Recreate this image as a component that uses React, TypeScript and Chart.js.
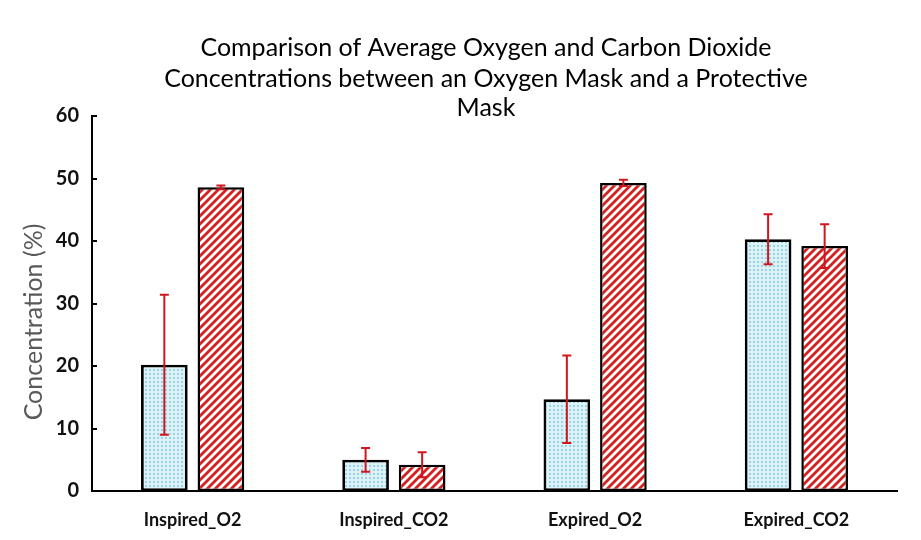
import React, { useEffect, useRef } from "react";
import { Chart, registerables } from "chart.js";

Chart.register(...registerables);

const categories = ["Inspired_O2", "Inspired_CO2", "Expired_O2", "Expired_CO2"];
const oxygenMask = [20.2, 5.0, 14.7, 40.3];
const oxygenMaskErr = [11.2, 1.9, 7.0, 4.0];
const protectiveMask = [48.6, 4.2, 49.3, 39.2];
const protectiveMaskErr = [0.3, 2.0, 0.5, 3.5];
const titleLines = [
  "Comparison of Average Oxygen and Carbon Dioxide",
  "Concentrations between an Oxygen Mask and a Protective",
  "Mask",
];
const yTitle = "Concentration (%)";
const errors = [oxygenMaskErr, protectiveMaskErr];

function dotPattern(): CanvasPattern | string {
  const c = document.createElement("canvas");
  c.width = 4;
  c.height = 4;
  const g = c.getContext("2d")!;
  g.fillStyle = "#dcf2f7";
  g.fillRect(0, 0, 4, 4);
  g.fillStyle = "#98d4e3";
  g.fillRect(1, 1, 2, 2);
  return g.createPattern(c, "repeat") || "#c5e9f1";
}

function stripePattern(): CanvasPattern | string {
  const s = 8;
  const c = document.createElement("canvas");
  c.width = s;
  c.height = s;
  const g = c.getContext("2d")!;
  g.fillStyle = "#ffffff";
  g.fillRect(0, 0, s, s);
  g.strokeStyle = "#d61f1f";
  g.lineWidth = 2.8;
  g.beginPath();
  g.moveTo(-1, s + 1);
  g.lineTo(s + 1, -1);
  g.moveTo(-1, 1);
  g.lineTo(1, -1);
  g.moveTo(s - 1, s + 1);
  g.lineTo(s + 1, s - 1);
  g.stroke();
  return g.createPattern(c, "repeat") || "#d61f1f";
}

const customPlugin = {
  id: "custom",
  afterDatasetsDraw(chart: any) {
    const ctx = chart.ctx;
    const y = chart.scales.y;
    ctx.save();
    ctx.strokeStyle = "#d0161e";
    ctx.lineWidth = 2;
    chart.data.datasets.forEach((ds: any, di: number) => {
      const meta = chart.getDatasetMeta(di);
      meta.data.forEach((el: any, i: number) => {
        const v = ds.data[i];
        const e = errors[di][i];
        const x = el.x;
        const yt = y.getPixelForValue(v + e);
        const yb = y.getPixelForValue(v - e);
        ctx.beginPath();
        ctx.moveTo(x, yt);
        ctx.lineTo(x, yb);
        ctx.moveTo(x - 4.5, yt);
        ctx.lineTo(x + 4.5, yt);
        ctx.moveTo(x - 4.5, yb);
        ctx.lineTo(x + 4.5, yb);
        ctx.stroke();
      });
    });
    // inner tick marks on y axis
    ctx.strokeStyle = "#000";
    ctx.lineWidth = 2;
    const x0 = chart.chartArea.left;
    y.ticks.forEach((t: any) => {
      const py = Math.round(y.getPixelForValue(t.value));
      ctx.beginPath();
      ctx.moveTo(x0, py);
      ctx.lineTo(x0 + 5, py);
      ctx.stroke();
    });
    // title
    ctx.fillStyle = "#000";
    ctx.font = "25px Lato";
    ctx.textAlign = "center";
    ctx.textBaseline = "middle";
    const ys = [48, 79, 108];
    titleLines.forEach((l, i) => ctx.fillText(l, 486, ys[i]));
    // y axis title
    ctx.save();
    ctx.translate(34, 322);
    ctx.rotate(-Math.PI / 2);
    ctx.fillStyle = "#595959";
    ctx.font = "25px Lato";
    ctx.fillText(yTitle, 0, 0);
    ctx.restore();
    ctx.restore();
  },
};

export default function App() {
  const ref = useRef<HTMLCanvasElement>(null);
  useEffect(() => {
    document.body.style.margin = "0";
    const chart = new Chart(ref.current!, {
      type: "bar",
      data: {
        labels: categories,
        datasets: [
          {
            label: "Oxygen Mask",
            data: oxygenMask,
            backgroundColor: dotPattern() as any,
            borderColor: "#000",
            borderWidth: 2.8,
            borderSkipped: false,
          },
          {
            label: "Protective Mask",
            data: protectiveMask,
            backgroundColor: stripePattern() as any,
            borderColor: "#000",
            borderWidth: 2.5,
            borderSkipped: false,
          },
        ],
      },
      options: {
        animation: false,
        responsive: false,
        devicePixelRatio: 1,
        layout: { padding: { top: 116, left: 0, right: 24, bottom: 0 } },
        plugins: {
          legend: { display: false },
          title: { display: false },
          tooltip: { enabled: false },
        },
        datasets: {
          bar: { categoryPercentage: 0.562, barPercentage: 0.825 },
        },
        scales: {
          x: {
            grid: { display: false, drawTicks: false },
            border: { color: "#000", width: 2 },
            ticks: {
              color: "#111",
              font: { family: "Lato", size: 18, weight: "bold" },
              padding: 18,
            },
            afterFit: (s: any) => {
              s.height = 49;
            },
          },
          y: {
            min: 0,
            max: 60,
            grid: { display: false, drawTicks: false },
            border: { color: "#000", width: 2 },
            ticks: {
              stepSize: 10,
              color: "#111",
              font: { family: "Lato", size: 20, weight: "bold" },
              padding: 13,
            },
            afterFit: (s: any) => {
              s.width = 92;
            },
          },
        },
      },
      plugins: [customPlugin],
    });
    return () => chart.destroy();
  }, []);
  return (
    <div style={{ width: 921, height: 540, background: "#fff" }}>
      <canvas ref={ref} width={921} height={540} style={{ display: "block" }} />
    </div>
  );
}
